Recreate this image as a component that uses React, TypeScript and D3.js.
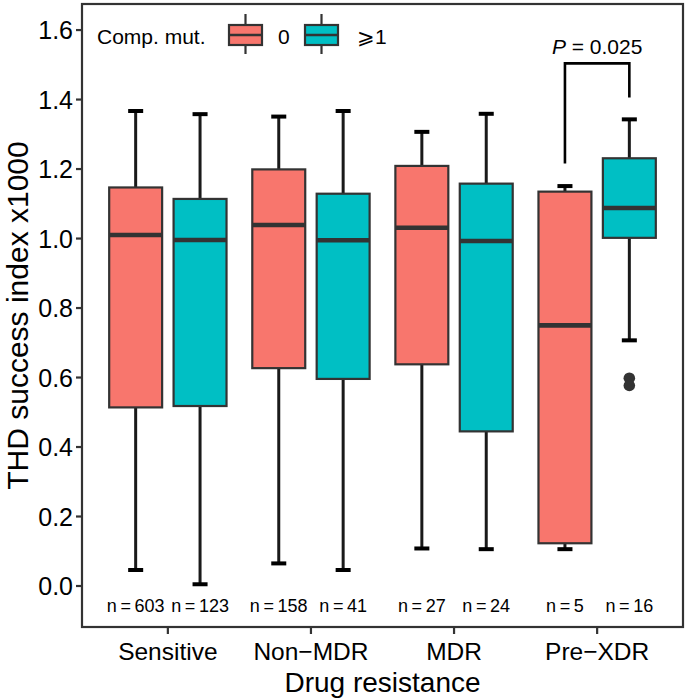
import * as d3 from 'd3';

// Drug resistance groups and compensatory-mutation series
const categories = ['Sensitive', 'Non\u2212MDR', 'MDR', 'Pre\u2212XDR'];
const groups = ['0', '\u2A7E1'];
const groupColors = ['#F8766D', '#00BFC4'];

// five-number summaries, Comp. mut. = 0
const lowZero = [0.046, 0.065, 0.108, 0.106];
const q1Zero = [0.514, 0.627, 0.638, 0.123];
const medZero = [1.01, 1.039, 1.031, 0.75];
const q3Zero = [1.147, 1.199, 1.209, 1.135];
const highZero = [1.367, 1.351, 1.307, 1.151];

// five-number summaries, Comp. mut. >= 1
const lowOne = [0.005, 0.046, 0.106, 0.707];
const q1One = [0.518, 0.596, 0.445, 1.002];
const medOne = [0.996, 0.995, 0.993, 1.088];
const q3One = [1.114, 1.129, 1.158, 1.231];
const highOne = [1.358, 1.367, 1.359, 1.343];
const outliersOne = [[], [], [], [0.598, 0.577]];
const outliersZero = [[], [], [], []];

const countsZero = [603, 158, 27, 5];
const countsOne = [123, 41, 24, 16];

const yTicks = [0, 0.2, 0.4, 0.6, 0.8, 1.0, 1.2, 1.4, 1.6];

// significance bracket (Pre-XDR)
const bracketLeftY = 1.216;
const bracketTopY = 1.504;
const bracketRightY = 1.406;
const pLabel = '0.025';

const W = 685;
const H = 698;
const FONT = '"Liberation Sans", Arial, Helvetica, sans-serif';

export default function App() {
  const left = 82, right = 683, top = 4, bottom = 627;

  const x = d3.scalePoint<string>().domain(categories).range([left, right]).padding(0.6);
  const step = x.step();
  const dodge = d3.scaleBand<string>().domain(groups).range([-0.45 * step, 0.45 * step]);
  const boxW = 0.37 * step;
  const capW = 0.105 * step;

  const y = d3.scaleLinear().domain([-0.118, 1.675]).range([bottom, top]);

  const series = [
    { low: lowZero, q1: q1Zero, med: medZero, q3: q3Zero, high: highZero, out: outliersZero, n: countsZero },
    { low: lowOne, q1: q1One, med: medOne, q3: q3One, high: highOne, out: outliersOne, n: countsOne },
  ];

  const cx = (ci: number, gi: number) =>
    (x(categories[ci]) as number) + (dodge(groups[gi]) as number) + dodge.bandwidth() / 2;

  const preIdx = 3;
  const bx0 = cx(preIdx, 0);
  const bx1 = cx(preIdx, 1);

  return (
    <svg
      width={W}
      height={H}
      style={{ position: 'absolute', left: 0, top: 0, background: '#fff' }}
      fontFamily={FONT}
    >
      {/* boxes */}
      {series.map((s, gi) =>
        categories.map((c, ci) => {
          const xc = cx(ci, gi);
          return (
            <g key={c + gi}>
              <line x1={xc} x2={xc} y1={y(s.low[ci])} y2={y(s.high[ci])} stroke="#1a1a1a" strokeWidth={3} />
              <line x1={xc - capW / 2} x2={xc + capW / 2} y1={y(s.low[ci])} y2={y(s.low[ci])} stroke="#000" strokeWidth={4} />
              <line x1={xc - capW / 2} x2={xc + capW / 2} y1={y(s.high[ci])} y2={y(s.high[ci])} stroke="#000" strokeWidth={4} />
              <rect
                x={xc - boxW / 2}
                y={y(s.q3[ci])}
                width={boxW}
                height={y(s.q1[ci]) - y(s.q3[ci])}
                fill={groupColors[gi]}
                stroke="#333"
                strokeWidth={2.2}
              />
              <line x1={xc - boxW / 2} x2={xc + boxW / 2} y1={y(s.med[ci])} y2={y(s.med[ci])} stroke="#333" strokeWidth={4.6} />
              {s.out[ci].map((v, k) => (
                <circle key={k} cx={xc} cy={y(v)} r={5.8} fill="#333" />
              ))}
              <text x={xc} y={606} textAnchor="middle" dominantBaseline="central" fontSize={18} fill="#000">
                {`n\u2009=\u2009${s.n[ci]}`}
              </text>
            </g>
          );
        })
      )}

      {/* significance bracket */}
      <path
        d={`M${bx0},${y(bracketLeftY)} V${y(bracketTopY)} H${bx1} V${y(bracketRightY)}`}
        fill="none"
        stroke="#000"
        strokeWidth={2.6}
      />
      <text x={(bx0 + bx1) / 2} y={54} textAnchor="middle" fontSize={21} fill="#000">
        <tspan fontStyle="italic">P</tspan>
        <tspan> = {pLabel}</tspan>
      </text>

      {/* legend */}
      <text x={97} y={44} fontSize={21} fill="#000">Comp. mut.</text>
      {groups.map((g, gi) => {
        const kx = [229, 305][gi];
        return (
          <g key={g}>
            <line x1={kx + 16.5} x2={kx + 16.5} y1={14} y2={54} stroke="#333" strokeWidth={2.2} />
            <rect x={kx} y={25} width={33} height={20} fill={groupColors[gi]} stroke="#333" strokeWidth={2.2} />
            <line x1={kx} x2={kx + 33} y1={35} y2={35} stroke="#333" strokeWidth={2.6} />
            <text x={[278, 357][gi]} y={44} fontSize={21} fill="#000">{g}</text>
          </g>
        );
      })}

      {/* panel border */}
      <rect x={left} y={top} width={right - left} height={bottom - top} fill="none" stroke="#333" strokeWidth={2.2} />

      {/* y axis */}
      {yTicks.map(t => (
        <g key={t}>
          <line x1={left - 6} x2={left} y1={y(t)} y2={y(t)} stroke="#333" strokeWidth={2.2} />
          <text x={left - 9} y={y(t)} textAnchor="end" dominantBaseline="central" fontSize={25} fill="#000">
            {t.toFixed(1)}
          </text>
        </g>
      ))}
      <text
        transform={`translate(17,${(top + bottom) / 2}) rotate(-90)`}
        textAnchor="middle"
        dominantBaseline="central"
        fontSize={30}
        fill="#000"
      >
        THD success index x1000
      </text>

      {/* x axis */}
      {categories.map(c => (
        <g key={c}>
          <line x1={x(c)} x2={x(c)} y1={bottom} y2={bottom + 7} stroke="#333" strokeWidth={2.2} />
          <text x={x(c)} y={651} textAnchor="middle" dominantBaseline="central" fontSize={24.5} fill="#000">
            {c}
          </text>
        </g>
      ))}
      <text x={(left + right) / 2} y={682} textAnchor="middle" dominantBaseline="central" fontSize={28} fill="#000">
        Drug resistance
      </text>
    </svg>
  );
}
